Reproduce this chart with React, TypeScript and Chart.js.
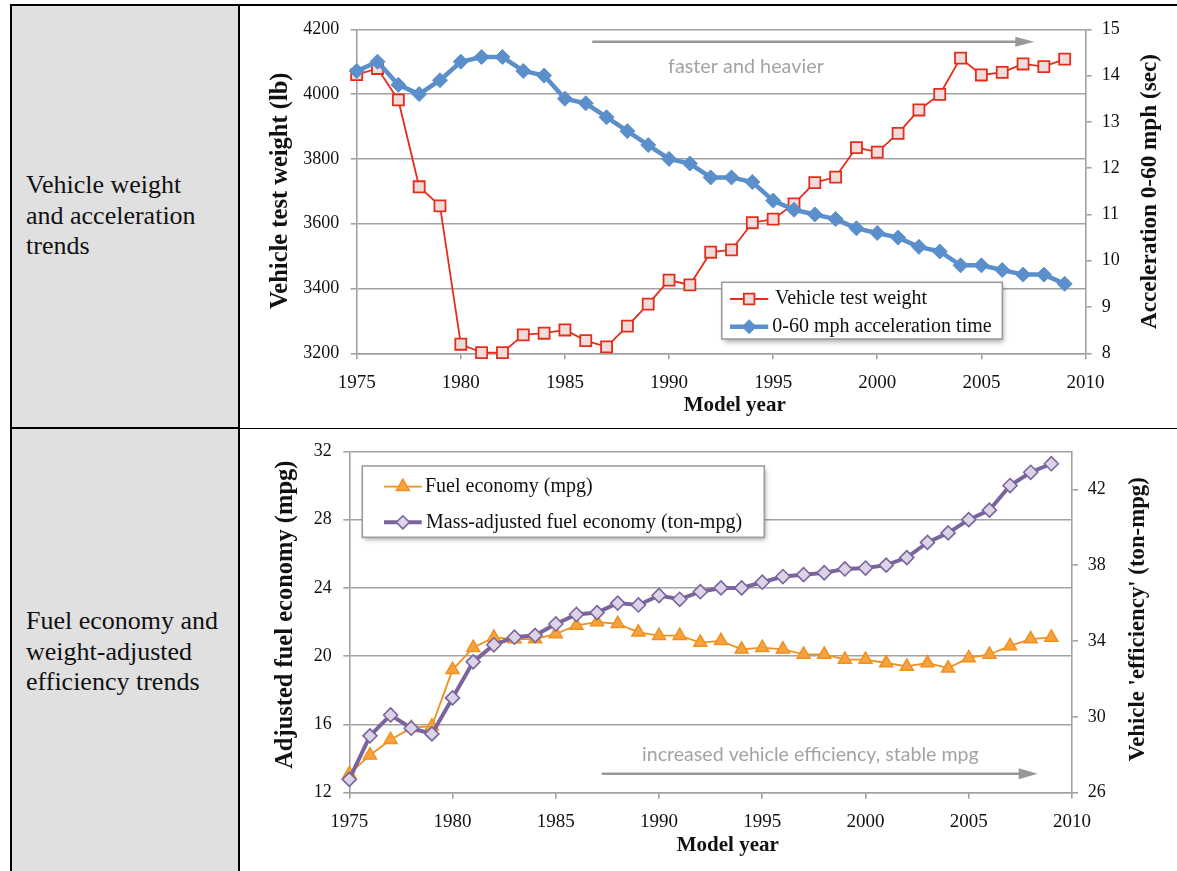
import React, { useEffect, useRef } from 'react';
import { Chart, registerables } from 'chart.js';

Chart.register(...registerables);

// ---------- data ----------
const years = [
  1975, 1976, 1977, 1978, 1979, 1980, 1981, 1982, 1983, 1984, 1985, 1986, 1987, 1988, 1989, 1990, 1991,
  1992, 1993, 1994, 1995, 1996, 1997, 1998, 1999, 2000, 2001, 2002, 2003, 2004, 2005, 2006, 2007, 2008, 2009,
];
const testWeight = [
  4060, 4079, 3982, 3714, 3655, 3228, 3202, 3202, 3257, 3262, 3272, 3239, 3220, 3284, 3352, 3426, 3411,
  3512, 3519, 3603, 3614, 3661, 3727, 3744, 3835, 3821, 3879, 3951, 3999, 4111, 4059, 4067, 4093, 4085, 4108,
];
const accelTime = [
  14.1, 14.3, 13.8, 13.6, 13.9, 14.3, 14.4, 14.4, 14.1, 14.0, 13.5, 13.4, 13.1, 12.8, 12.5, 12.2, 12.1,
  11.8, 11.8, 11.7, 11.3, 11.1, 11.0, 10.9, 10.7, 10.6, 10.5, 10.3, 10.2, 9.9, 9.9, 9.8, 9.7, 9.7, 9.5,
];
const fuelEconomy = [
  13.1, 14.2, 15.1, 15.8, 15.9, 19.2, 20.5, 21.1, 21.0, 21.0, 21.3, 21.8, 22.0, 21.9, 21.4, 21.2, 21.2,
  20.8, 20.9, 20.4, 20.5, 20.4, 20.1, 20.1, 19.8, 19.8, 19.6, 19.4, 19.6, 19.3, 19.9, 20.1, 20.6, 21.0, 21.1,
];
const tonMpg = [
  26.7, 29.0, 30.1, 29.4, 29.1, 31.0, 32.9, 33.8, 34.2, 34.3, 34.9, 35.4, 35.5, 36.0, 35.9, 36.4, 36.2,
  36.6, 36.8, 36.8, 37.1, 37.4, 37.5, 37.6, 37.8, 37.85, 38.0, 38.4, 39.2, 39.7, 40.4, 40.9, 42.2, 42.9, 43.35,
];
const yearTicks = [1975, 1980, 1985, 1990, 1995, 2000, 2005, 2010];
const weightTicks = [3200, 3400, 3600, 3800, 4000, 4200];
const accelTicks = [8, 9, 10, 11, 12, 13, 14, 15];
const mpgTicks = [12, 16, 20, 24, 28, 32];
const tonMpgTicks = [26, 30, 34, 38, 42];

// ---------- style ----------
const SERIF = '"Liberation Serif", "Times New Roman", Times, serif';
const SANS = 'Lato, "Open Sans", sans-serif';
const TXT = '#111111';
const GRID = '#a2a2a2';
const RED = '#e42e1b';
const RED_FILL = '#f2dcdb';
const BLUE = '#5b8fcb';
const ORANGE = '#f0901f';
const ORANGE_FILL = '#f6a23e';
const PURPLE = '#7a649c';
const PURPLE_FILL = '#dcd3e7';
const NOTE = '#a3a3a3';

type Marker = 'rect' | 'rectRot' | 'triangle';

function drawMarker(
  ctx: CanvasRenderingContext2D, style: Marker, x: number, y: number, r: number,
  fill: string, stroke: string, lw: number,
) {
  ctx.beginPath();
  if (style === 'rect') {
    const s = r * Math.SQRT1_2;
    ctx.rect(x - s, y - s, 2 * s, 2 * s);
  } else if (style === 'rectRot') {
    ctx.moveTo(x, y - r);
    ctx.lineTo(x + r, y);
    ctx.lineTo(x, y + r);
    ctx.lineTo(x - r, y);
    ctx.closePath();
  } else {
    ctx.moveTo(x, y - r);
    ctx.lineTo(x + r * Math.sin(Math.PI * 2 / 3), y + r / 2);
    ctx.lineTo(x - r * Math.sin(Math.PI * 2 / 3), y + r / 2);
    ctx.closePath();
  }
  ctx.fillStyle = fill;
  ctx.fill();
  ctx.lineWidth = lw;
  ctx.strokeStyle = stroke;
  ctx.stroke();
}

type LegendEntry = {
  text: string; y: number; lineX1: number; lineX2: number; textX: number;
  color: string; lineWidth: number; marker: Marker; r: number; fill: string; mlw: number;
};
type Overlay = {
  titles: { text: string; x: number; y: number; size: number; vertical: boolean }[];
  legend: { x: number; y: number; w: number; h: number; entries: LegendEntry[] };
  note: { text: string; x: number; y: number; width: number; ax1: number; ax2: number; ay: number; head: number; half: number };
};

function overlayPlugin(o: Overlay) {
  return {
    id: 'overlay',
    afterDraw(chart: Chart) {
      const ctx = chart.ctx;
      ctx.save();
      // axis titles
      ctx.fillStyle = TXT;
      ctx.textBaseline = 'alphabetic';
      ctx.textAlign = 'center';
      for (const t of o.titles) {
        ctx.font = `bold ${t.size}px ${SERIF}`;
        ctx.save();
        ctx.translate(t.x, t.y);
        if (t.vertical) ctx.rotate(-Math.PI / 2);
        ctx.fillText(t.text, 0, 0);
        ctx.restore();
      }
      // annotation arrow + text
      const n = o.note;
      ctx.strokeStyle = '#989898';
      ctx.fillStyle = '#989898';
      ctx.lineWidth = 2.6;
      ctx.beginPath();
      ctx.moveTo(n.ax1, n.ay);
      ctx.lineTo(n.ax2 - n.head + 1, n.ay);
      ctx.stroke();
      ctx.beginPath();
      ctx.moveTo(n.ax2, n.ay);
      ctx.lineTo(n.ax2 - n.head, n.ay - n.half);
      ctx.lineTo(n.ax2 - n.head, n.ay + n.half);
      ctx.closePath();
      ctx.fill();
      ctx.font = `20px ${SANS}`;
      const w0 = ctx.measureText(n.text).width;
      const size = (20 * n.width) / w0;
      ctx.font = `${size}px ${SANS}`;
      ctx.fillStyle = NOTE;
      ctx.textAlign = 'left';
      ctx.fillText(n.text, n.x, n.y);
      // legend
      const L = o.legend;
      ctx.save();
      ctx.shadowColor = 'rgba(0,0,0,0.35)';
      ctx.shadowBlur = 5;
      ctx.shadowOffsetX = 2;
      ctx.shadowOffsetY = 3;
      ctx.fillStyle = '#ffffff';
      ctx.fillRect(L.x, L.y, L.w, L.h);
      ctx.restore();
      ctx.strokeStyle = '#9d9d9d';
      ctx.lineWidth = 1.6;
      ctx.strokeRect(L.x, L.y, L.w, L.h);
      for (const e of L.entries) {
        ctx.strokeStyle = e.color;
        ctx.lineWidth = e.lineWidth;
        ctx.beginPath();
        ctx.moveTo(e.lineX1, e.y);
        ctx.lineTo(e.lineX2, e.y);
        ctx.stroke();
        drawMarker(ctx, e.marker, (e.lineX1 + e.lineX2) / 2, e.y, e.r, e.fill, e.color, e.mlw);
        ctx.fillStyle = TXT;
        ctx.font = `20px ${SERIF}`;
        ctx.textAlign = 'left';
        ctx.textBaseline = 'middle';
        ctx.fillText(e.text, e.textX, e.y);
      }
      ctx.restore();
    },
  };
}

function pts(vals: number[]) {
  return years.map((yr, i) => ({ x: yr, y: vals[i] }));
}

function xScale(height: number, padding: number) {
  return {
    type: 'linear' as const,
    min: 1975,
    max: 2010,
    afterBuildTicks: (s: any) => { s.ticks = yearTicks.map((v) => ({ value: v })); },
    afterFit: (s: any) => { s.height = height; },
    ticks: {
      font: { family: SERIF, size: 19 }, color: TXT, padding, maxRotation: 0, autoSkip: false,
      callback: (v: any) => String(v),
    },
    grid: { drawOnChartArea: false, drawTicks: true, tickLength: 6, color: GRID, lineWidth: 1.6 },
    border: { display: true, color: GRID, width: 1.6 },
  };
}

function yScale(
  position: 'left' | 'right', min: number, max: number, ticks: number[], width: number,
  padding: number, gridOn: boolean,
) {
  return {
    type: 'linear' as const,
    position,
    min,
    max,
    afterBuildTicks: (s: any) => { s.ticks = ticks.map((v) => ({ value: v })); },
    afterFit: (s: any) => { s.width = width; },
    ticks: { font: { family: SERIF, size: 18 }, color: TXT, padding, callback: (v: any) => String(v) },
    grid: { drawOnChartArea: gridOn, drawTicks: true, tickLength: 6, color: GRID, lineWidth: 1.6 },
    border: { display: true, color: GRID, width: 1.6 },
  };
}

const W = 936;
const H1 = 421;
const H2 = 442;

function config1(): any {
  return {
    type: 'line',
    data: {
      datasets: [
        {
          label: 'Vehicle test weight', data: pts(testWeight), yAxisID: 'y', order: 1, clip: false,
          borderColor: RED, borderWidth: 1.8, pointStyle: 'rect', pointRadius: 7.8,
          pointBackgroundColor: RED_FILL, pointBorderColor: RED, pointBorderWidth: 1.8, tension: 0,
        },
        {
          label: '0-60 mph acceleration time', data: pts(accelTime), yAxisID: 'y1', order: 0, clip: false,
          borderColor: BLUE, borderWidth: 4.5, pointStyle: 'rectRot', pointRadius: 7.5,
          pointBackgroundColor: BLUE, pointBorderColor: BLUE, pointBorderWidth: 1, tension: 0,
        },
      ],
    },
    options: {
      responsive: false, animation: false, devicePixelRatio: 1,
      layout: { padding: { top: 23.3, left: 0, right: 0, bottom: 0 } },
      plugins: { legend: { display: false }, tooltip: { enabled: false } },
      scales: {
        x: xScale(73.7, 12.6),
        y: yScale('left', 3200, 4200, weightTicks, 115.7, 11.4, true),
        y1: yScale('right', 8, 15, accelTicks, 91.5, 10.2, false),
      },
    },
    plugins: [
      overlayPlugin({
        titles: [
          { text: 'Vehicle test weight (lb)', x: 46, y: 184.8, size: 24.5, vertical: true },
          { text: 'Acceleration 0-60 mph (sec)', x: 915.2, y: 185.5, size: 23.2, vertical: true },
          { text: 'Model year', x: 493.7, y: 405, size: 21, vertical: false },
        ],
        legend: {
          x: 480.7, y: 276.3, w: 280.6, h: 56.7,
          entries: [
            { text: 'Vehicle test weight', y: 293, lineX1: 489, lineX2: 527.3, textX: 534, color: RED, lineWidth: 1.8, marker: 'rect', r: 7.5, fill: RED_FILL, mlw: 1.8 },
            { text: '0-60 mph acceleration time', y: 320.7, lineX1: 489, lineX2: 527.3, textX: 531.3, color: BLUE, lineWidth: 4.5, marker: 'rectRot', r: 7, fill: BLUE, mlw: 1 },
          ],
        },
        note: { text: 'faster and heavier', x: 427, y: 66.7, width: 156, ax1: 351.3, ax2: 793.3, ay: 35.7, head: 19, half: 5 },
      }),
    ],
  };
}

function config2(): any {
  return {
    type: 'line',
    data: {
      datasets: [
        {
          label: 'Fuel economy (mpg)', data: pts(fuelEconomy), yAxisID: 'y', order: 1, clip: false,
          borderColor: ORANGE, borderWidth: 1.8, pointStyle: 'triangle', pointRadius: 7.5,
          pointBackgroundColor: ORANGE_FILL, pointBorderColor: ORANGE, pointBorderWidth: 1.5, tension: 0,
        },
        {
          label: 'Mass-adjusted fuel economy (ton-mpg)', data: pts(tonMpg), yAxisID: 'y1', order: 0, clip: false,
          borderColor: PURPLE, borderWidth: 4, pointStyle: 'rectRot', pointRadius: 7,
          pointBackgroundColor: PURPLE_FILL, pointBorderColor: PURPLE, pointBorderWidth: 1.6, tension: 0,
        },
      ],
    },
    options: {
      responsive: false, animation: false, devicePixelRatio: 1,
      layout: { padding: { top: 22, left: 0, right: 0, bottom: 0 } },
      plugins: { legend: { display: false }, tooltip: { enabled: false } },
      scales: {
        x: xScale(78.3, 12.2),
        y: yScale('left', 12, 32, mpgTicks, 108.3, 11.6, true),
        y1: yScale('right', 26, 44, tonMpgTicks, 105, 9.7, false),
      },
    },
    plugins: [
      overlayPlugin({
        titles: [
          { text: 'Adjusted fuel economy (mpg)', x: 50.9, y: 185.7, size: 24.5, vertical: true },
          { text: "Vehicle 'efficiency' (ton-mpg)", x: 902.6, y: 190.2, size: 22.8, vertical: true },
          { text: 'Model year', x: 486.8, y: 421.7, size: 21, vertical: false },
        ],
        legend: {
          x: 121.3, y: 37, w: 402, h: 71.3,
          entries: [
            { text: 'Fuel economy (mpg)', y: 57.7, lineX1: 143, lineX2: 180.7, textX: 184, color: ORANGE, lineWidth: 1.8, marker: 'triangle', r: 7.5, fill: ORANGE_FILL, mlw: 1.5 },
            { text: 'Mass-adjusted fuel economy (ton-mpg)', y: 93.3, lineX1: 143, lineX2: 180.7, textX: 185, color: PURPLE, lineWidth: 4, marker: 'rectRot', r: 6.5, fill: PURPLE_FILL, mlw: 1.6 },
          ],
        },
        note: { text: 'increased vehicle efficiency, stable mpg', x: 401, y: 331.7, width: 337, ax1: 360.7, ax2: 796.7, ay: 344.8, head: 19, half: 5.5 },
      }),
    ],
  };
}

const abs = (s: React.CSSProperties): React.CSSProperties => ({ position: 'absolute', ...s });

export default function App() {
  const ref1 = useRef<HTMLCanvasElement>(null);
  const ref2 = useRef<HTMLCanvasElement>(null);

  useEffect(() => {
    const c1 = new Chart(ref1.current as HTMLCanvasElement, config1());
    const c2 = new Chart(ref2.current as HTMLCanvasElement, config2());
    return () => {
      c1.destroy();
      c2.destroy();
    };
  }, []);

  const cellText: React.CSSProperties = {
    fontFamily: SERIF, fontSize: 26, lineHeight: '30.7px', color: TXT, whiteSpace: 'nowrap',
  };

  return (
    <div style={{ position: 'fixed', left: 0, top: 0, width: 1177, height: 871, background: '#ffffff', overflow: 'hidden' }}>
      <div style={abs({ left: 12, top: 6, width: 226, height: 865, background: '#e0e0e0' })} />
      <div style={abs({ left: 10, top: 4, width: 1167, height: 2, background: '#000' })} />
      <div style={abs({ left: 10, top: 4, width: 2, height: 867, background: '#000' })} />
      <div style={abs({ left: 238, top: 4, width: 2, height: 867, background: '#000' })} />
      <div style={abs({ left: 10, top: 427, width: 230, height: 2, background: '#000' })} />
      <div style={abs({ left: 240, top: 427.6, width: 937, height: 1.4, background: '#000' })} />
      <div style={abs({ left: 26, top: 170, ...cellText })}>
        Vehicle weight<br />and acceleration<br />trends
      </div>
      <div style={abs({ left: 26, top: 606, ...cellText })}>
        Fuel economy and<br />weight-adjusted<br />efficiency trends
      </div>
      <canvas ref={ref1} width={W} height={H1} style={abs({ left: 241, top: 6, width: W, height: H1 })} />
      <canvas ref={ref2} width={W} height={H2} style={abs({ left: 241, top: 429, width: W, height: H2 })} />
    </div>
  );
}
